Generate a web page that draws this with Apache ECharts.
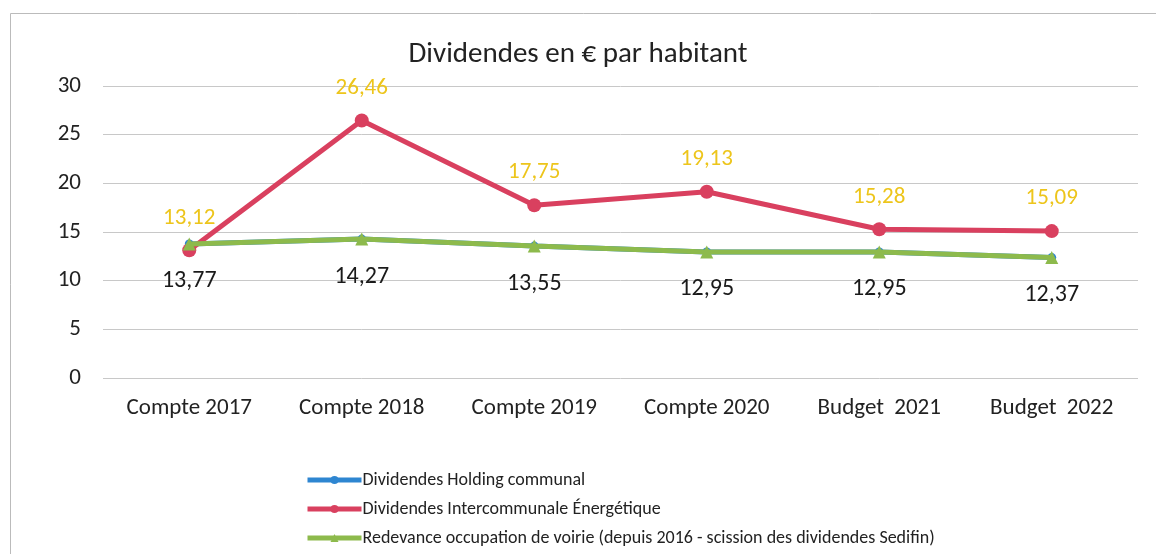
<!DOCTYPE html>
<html><head><meta charset="utf-8">
<script src="https://cdn.jsdelivr.net/npm/echarts@6/dist/echarts.min.js"></script>
<style>html,body{margin:0;padding:0;background:#fff}#c{width:1156px;height:554px}</style>
</head><body><div id="c"></div>
<script>
const categories = ['Compte 2017','Compte 2018','Compte 2019','Compte 2020','Budget  2021','Budget  2022'];
const holding = [13.77, 14.27, 13.55, 12.95, 12.95, 12.37];
const intercommunale = [13.12, 26.46, 17.75, 19.13, 15.28, 15.09];
const redevance = [13.77, 14.27, 13.55, 12.95, 12.95, 12.37];
const yTicks = [0, 5, 10, 15, 20, 25, 30];
const seriesNames = ['Dividendes Holding communal','Dividendes Intercommunale Énergétique','Redevance occupation de voirie (depuis 2016 - scission des dividendes Sedifin)'];

const fam = 'Calibri, Carlito, "Open Sans", "Noto Sans", sans-serif';
const chart = echarts.init(document.getElementById('c'));
chart.setOption({
  backgroundColor: '#fff',
  animation: false,
  title: {text: 'Dividendes en € par habitant', left: 'center', top: 35,
    textStyle: {fontFamily: fam, fontSize: 29, fontWeight: 'normal', color: '#222'}},
  graphic: [{type: 'rect', shape: {x: 10.5, y: 13.5, width: 1160, height: 560},
    style: {fill: 'none', stroke: '#bbb', lineWidth: 1}, silent: true}],
  grid: {left: 103, right: 18, top: 86, bottom: 176, containLabel: false},
  legend: {orient: 'vertical', left: 300, top: 466, itemGap: 11, itemWidth: 54, itemHeight: 10,
    data: seriesNames, lineStyle: {width: 5},
    textStyle: {fontFamily: fam, fontSize: 18, color: '#222', padding: [0,0,0,-4]}},
  xAxis: {type: 'category', data: categories, boundaryGap: true,
    axisLine: {show: false}, axisTick: {show: false},
    axisLabel: {fontFamily: fam, fontSize: 23, color: '#222', margin: 19}},
  yAxis: {type: 'value', min: yTicks[0], max: yTicks[yTicks.length-1], interval: 5,
    axisLine: {show: false}, axisTick: {show: false},
    axisLabel: {fontFamily: fam, fontSize: 23, color: '#222', margin: 22},
    splitLine: {lineStyle: {color: '#c8c8c8', width: 1}}},
  series: [
    {name: seriesNames[0], type: 'line', data: holding, color: '#2E86D1',
      lineStyle: {width: 5}, symbol: 'circle', symbolSize: 9, z: 2},
    {name: seriesNames[1], type: 'line', data: intercommunale, color: '#D9405F',
      lineStyle: {width: 5}, symbol: 'circle', symbolSize: 14, z: 3,
      label: {show: true, position: 'top', distance: 14, fontFamily: fam, fontSize: 23, color: '#EDC51B',
        formatter: p => p.value.toFixed(2).replace('.', ',')}},
    {name: seriesNames[2], type: 'line', data: redevance, color: '#8DBA4C',
      lineStyle: {width: 5}, symbol: 'triangle', symbolSize: 13, z: 4,
      label: {show: true, position: 'bottom', distance: 19, fontFamily: fam, fontSize: 24, color: '#1a1a1a',
        formatter: p => p.value.toFixed(2).replace('.', ',')}}
  ]
});
</script></body></html>
